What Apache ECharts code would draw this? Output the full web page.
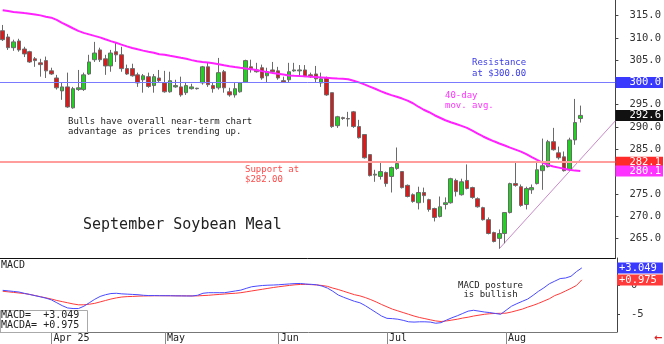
<!DOCTYPE html>
<html><head><meta charset="utf-8">
<script src="https://cdn.jsdelivr.net/npm/echarts@6/dist/echarts.min.js"></script>
<style>html,body{margin:0;padding:0;background:#fff}#c{width:664px;height:344px}</style>
</head><body><div id="c"></div>
<script>
// Trading days (plus a few empty future sessions on the right)
const dates = [
'2025-03-19','2025-03-20','2025-03-21','2025-03-24','2025-03-25','2025-03-26','2025-03-27','2025-03-28','2025-03-31',
'2025-04-01','2025-04-02','2025-04-03','2025-04-04','2025-04-07','2025-04-08','2025-04-09','2025-04-10','2025-04-11','2025-04-14','2025-04-15','2025-04-16','2025-04-17','2025-04-21','2025-04-22','2025-04-23','2025-04-24','2025-04-25','2025-04-28','2025-04-29','2025-04-30',
'2025-05-01','2025-05-02','2025-05-05','2025-05-06','2025-05-07','2025-05-08','2025-05-09','2025-05-12','2025-05-13','2025-05-14','2025-05-15','2025-05-16','2025-05-19','2025-05-20','2025-05-21','2025-05-22','2025-05-23','2025-05-27','2025-05-28','2025-05-29','2025-05-30',
'2025-06-02','2025-06-03','2025-06-04','2025-06-05','2025-06-06','2025-06-09','2025-06-10','2025-06-11','2025-06-12','2025-06-13','2025-06-16','2025-06-17','2025-06-18','2025-06-20','2025-06-23','2025-06-24','2025-06-25','2025-06-26','2025-06-27','2025-06-30',
'2025-07-01','2025-07-02','2025-07-03','2025-07-07','2025-07-08','2025-07-09','2025-07-10','2025-07-11','2025-07-14','2025-07-15','2025-07-16','2025-07-17','2025-07-18','2025-07-21','2025-07-22','2025-07-23','2025-07-24','2025-07-25','2025-07-28','2025-07-29','2025-07-30','2025-07-31',
'2025-08-01','2025-08-04','2025-08-05','2025-08-06','2025-08-07','2025-08-08','2025-08-11','2025-08-12','2025-08-13','2025-08-14','2025-08-15','2025-08-18','2025-08-19','2025-08-20','2025-08-21',
'2025-08-22','2025-08-25','2025-08-26','2025-08-27','2025-08-28','2025-08-29'
];
const tickDates  = ['2025-04-01','2025-05-01','2025-06-02','2025-07-01','2025-08-01'];
const tickLabels = ['Apr 25','May','Jun','Jul','Aug'];

const opens = [311.6,310.2,307.8,309.3,307.5,306.9,305.3,304.4,304.9,302.6,301.0,298.1,299.0,294.3,298.4,298.4,301.9,305.1,307.3,305.3,303.7,306.9,306.2,303.1,303.1,301.7,300.6,301.3,299.3,301.0,299.9,297.9,299.0,299.0,297.7,298.6,298.6,299.9,303.5,299.3,298.8,302.4,297.9,297.2,297.9,300.1,303.5,302.8,303.3,301.5,302.8,302.6,300.4,300.6,302.6,302.6,302.8,301.7,301.9,299.9,301.0,297.7,290.3,292.1,291.9,293.4,290.1,288.3,283.8,279.2,278.9,279.8,278.9,280.7,280.0,276.9,274.8,273.0,275.3,273.7,271.7,269.9,272.6,273.0,278.0,274.8,278.0,276.4,273.9,271.9,269.2,266.3,265.0,266.1,270.8,277.3,276.6,272.6,275.9,277.3,280.2,281.1,286.7,284.2,283.3,280.4,287.1,291.9];
const closes = [309.6,307.8,309.1,307.3,306.4,304.6,304.9,304.0,302.6,301.9,298.8,299.0,294.5,298.6,298.8,301.7,304.6,306.6,305.1,303.7,306.6,306.2,303.1,301.9,301.5,299.9,301.5,299.1,301.3,300.4,297.9,300.4,299.3,297.2,299.3,299.0,298.7,303.5,299.5,298.6,302.2,298.8,297.2,298.6,299.9,304.9,303.1,302.4,301.0,302.4,302.4,301.0,300.1,302.4,302.8,302.8,301.3,301.3,300.8,300.8,297.2,290.1,292.3,291.9,291.8,290.1,287.6,283.1,279.1,279.4,280.0,277.3,280.9,281.8,276.4,274.4,273.3,275.3,274.6,271.5,269.7,272.1,273.0,278.4,275.5,277.7,276.2,274.2,272.1,269.2,266.1,264.3,266.1,270.8,277.3,276.9,272.4,276.2,276.4,280.4,281.3,286.7,284.9,283.1,280.2,287.1,291.0,292.6];
const lows   = [309.3,307.3,307.1,306.9,305.7,304.4,303.5,301.3,301.0,301.7,298.4,296.1,294.3,294.1,298.1,298.1,301.7,304.6,304.6,301.7,302.4,304.6,302.4,301.7,301.3,299.0,297.7,298.8,297.7,300.1,297.7,297.7,298.8,296.8,297.2,298.4,298.4,299.5,299.0,297.7,298.4,297.7,296.8,296.6,297.7,299.9,302.2,302.2,300.6,299.9,302.2,300.6,299.9,300.1,302.4,301.3,301.3,301.0,299.9,299.0,297.0,289.8,289.8,291.6,290.1,289.8,287.4,282.9,278.9,277.7,278.2,276.6,275.3,280.4,276.2,274.2,273.0,271.5,273.0,271.0,268.8,269.7,271.5,272.8,274.4,274.6,276.0,273.9,271.9,269.0,265.9,264.1,262.7,263.9,270.6,276.6,272.1,271.5,275.0,277.1,275.9,280.9,284.7,282.7,280.0,280.2,286.0,291.0];
const highs  = [312.9,310.9,309.6,309.8,308.0,307.1,305.7,305.3,305.8,303.3,301.7,299.9,302.2,299.0,302.8,302.2,306.2,309.1,307.8,306.2,307.3,308.9,308.0,304.0,304.2,302.2,301.9,302.2,301.9,302.8,302.6,302.4,300.6,301.3,300.1,299.7,298.8,303.7,304.4,299.9,305.5,302.8,298.8,300.1,300.1,305.1,305.1,304.4,304.0,303.3,304.6,303.5,301.3,304.4,304.4,303.9,303.9,302.2,303.7,302.2,301.3,297.7,292.5,292.3,293.4,293.6,291.6,288.3,283.8,280.4,282.0,280.0,281.1,285.4,280.0,277.1,275.1,276.6,276.4,273.9,271.9,274.4,274.2,278.6,278.4,278.4,281.6,276.6,274.2,272.1,269.7,266.5,267.0,270.8,277.5,282.0,277.1,276.6,277.1,282.0,287.4,287.1,289.8,285.6,284.5,287.6,296.3,294.8];

const ma40 = [316.19,316.01,315.83,315.70,315.56,315.43,315.27,315.05,314.76,314.53,314.04,313.37,312.78,312.16,311.57,311.13,310.79,310.45,310.12,309.69,309.27,308.89,308.48,308.10,307.74,307.43,307.14,306.87,306.65,306.31,306.20,305.97,305.75,305.52,305.30,305.01,304.74,304.58,304.45,304.29,304.07,303.84,303.62,303.44,303.28,303.13,302.95,302.77,302.54,302.34,302.14,301.94,301.76,301.58,301.49,301.42,301.36,301.29,301.22,301.13,301.04,300.95,300.86,300.80,300.71,300.37,300.01,299.56,299.07,298.58,298.06,297.57,297.15,296.79,296.38,295.93,295.33,294.55,293.87,293.31,292.64,292.08,291.52,291.07,290.67,290.24,289.80,289.17,288.50,287.87,287.31,286.79,286.30,285.85,285.36,284.91,284.46,283.90,283.23,282.60,282.00,281.50,281.15,280.88,280.61,280.39,280.21,280.10];

const macd = [-0.84,-0.93,-1.03,-1.13,-1.36,-1.56,-1.77,-1.98,-2.2,-2.5,-3.0,-3.5,-3.9,-4.0,-4.0,-3.6,-3.0,-2.4,-1.9,-1.6,-1.4,-1.35,-1.45,-1.5,-1.55,-1.6,-1.7,-1.75,-1.75,-1.77,-1.77,-1.78,-1.8,-1.8,-1.82,-1.82,-1.7,-1.35,-1.25,-1.25,-1.25,-1.25,-1.1,-0.95,-0.8,-0.5,-0.22,-0.1,0.0,0.05,0.08,0.13,0.2,0.27,0.33,0.35,0.25,0.2,0.12,-0.1,-0.45,-1.0,-1.65,-2.05,-2.4,-2.75,-3.0,-3.5,-4.1,-4.7,-5.3,-5.7,-5.75,-5.85,-6.05,-6.3,-6.35,-6.3,-6.3,-6.35,-6.55,-6.45,-6.0,-5.6,-5.25,-4.85,-4.45,-4.3,-4.45,-4.6,-4.7,-4.85,-5.0,-4.3,-3.6,-3.15,-2.75,-2.35,-1.7,-1.0,-0.4,0.3,0.75,1.2,1.3,1.6,2.4,3.049];
const macda = [-1.0,-1.1,-1.2,-1.3,-1.4,-1.55,-1.75,-1.95,-2.15,-2.35,-2.6,-2.8,-3.0,-3.2,-3.35,-3.35,-3.25,-3.1,-2.85,-2.6,-2.35,-2.15,-2.0,-1.93,-1.9,-1.85,-1.82,-1.8,-1.78,-1.77,-1.78,-1.78,-1.79,-1.8,-1.8,-1.81,-1.8,-1.75,-1.7,-1.62,-1.55,-1.48,-1.4,-1.35,-1.25,-1.1,-0.95,-0.8,-0.65,-0.5,-0.35,-0.22,-0.1,0.02,0.12,0.18,0.2,0.15,0.1,0.0,-0.15,-0.45,-0.7,-1.0,-1.3,-1.6,-1.8,-2.1,-2.45,-2.85,-3.3,-3.7,-4.1,-4.4,-4.7,-5.0,-5.3,-5.55,-5.75,-5.95,-6.15,-6.25,-6.15,-6.0,-5.85,-5.65,-5.5,-5.3,-5.15,-5.0,-4.9,-4.85,-4.83,-4.8,-4.6,-4.35,-4.1,-3.75,-3.45,-3.1,-2.7,-2.3,-1.75,-1.4,-0.95,-0.5,0.0,0.975];

const priceTicks = [265,270,275,280,285,290,295,300,305,310,315];
const macdTicks  = [-5,0];
const resistance = 300.0;
const support = 282.1;
// uptrend line: from the July low to the right edge of the price panel
const trendX = [92, 113.5];
const trendY = [262.7, 291.4];

const MONO = '"DejaVu Sans Mono", monospace';
const candleData = opens.map((o,i)=>[o, closes[i], lows[i], highs[i]]);
const lastClose = closes[closes.length-1];
const lastMA = ma40[ma40.length-1];
const lastMacd = macd[macd.length-1];
const lastMacda = macda[macda.length-1];
const sgn = v => (v>=0?'+':'') + v.toFixed(3);

function tagLabel(bg, text, padL, padR){
  return {show:true, position:'end', distance:0, formatter: ()=>text,
    color:'#fff', backgroundColor:bg, fontFamily:MONO, fontSize:10.5,
    lineHeight:10, padding:[1,padR,0,padL]};
}
function tag(value, bg, text, padL, padR){
  return {yAxis: value, lineStyle:{color:'rgba(0,0,0,0)', width:1}, label: tagLabel(bg, text, padL, padR)};
}

const chart = echarts.init(document.getElementById('c'), null, {renderer:'canvas'});
chart.setOption({
  animation:false,
  backgroundColor:'#fff',
  grid:[
    {left:0, top:0, width:617, height:258},
    {left:0, top:258, width:617, height:74}
  ],
  xAxis:[
    {type:'category', gridIndex:0, data:dates, boundaryGap:true,
     axisLine:{show:true, onZero:false, lineStyle:{color:'#111', width:1}},
     axisTick:{show:false}, axisLabel:{show:false}, splitLine:{show:false}},
    {type:'category', gridIndex:1, data:dates, boundaryGap:true,
     axisLine:{show:true, onZero:false, lineStyle:{color:'#777', width:1}},
     axisTick:{show:true, alignWithLabel:true, length:12, lineStyle:{color:'#888'},
       interval:(idx,val)=>tickDates.indexOf(val)>=0},
     axisLabel:{show:true, interval:(idx,val)=>tickDates.indexOf(val)>=0,
       formatter:(val)=>tickLabels[tickDates.indexOf(val)] || '',
       align:'left', margin:1, padding:[0,0,0,2], color:'#222', fontFamily:MONO, fontSize:10},
     splitLine:{show:false}},
    {type:'value', gridIndex:0, min:-0.5, max:113.5, show:false}
  ],
  yAxis:[
    {type:'value', gridIndex:0, position:'right', min:260.6, max:318.5,
     axisLine:{show:true, onZero:false, lineStyle:{color:'#444'}},
     axisTick:{show:true, length:3, customValues:priceTicks, lineStyle:{color:'#444'}},
     axisLabel:{show:true, customValues:priceTicks, formatter:v=>v.toFixed(1), align:'left', margin:14,
       color:'#333', fontFamily:MONO, fontSize:10.5},
     splitLine:{show:false}},
    {type:'value', gridIndex:1, position:'right', min:-8.07, max:4.77,
     axisLine:{show:true, onZero:false, lineStyle:{color:'#444'}},
     axisTick:{show:true, length:3, customValues:macdTicks, lineStyle:{color:'#444'}},
     axisLabel:{show:true, customValues:macdTicks, formatter:v=>String(v), align:'left', margin:14,
       color:'#333', fontFamily:MONO, fontSize:10.5},
     splitLine:{show:false}}
  ],
  series:[
    {type:'line', name:'trend', xAxisIndex:2, yAxisIndex:0, data:trendX.map((x,i)=>[x,trendY[i]]),
     symbol:'none', silent:true, lineStyle:{color:'#c98ac9', width:1}, z:1},
    {type:'candlestick', name:'price', xAxisIndex:0, yAxisIndex:0, data:candleData, barWidth:4,
     itemStyle:{color:'#1fd41f', color0:'#e01818', borderColor:'#6a6a6a', borderColor0:'#6a6a6a', borderWidth:1},
     markLine:{silent:true, symbol:['none','none'], animation:false, z:5,
       data:[
         {yAxis:resistance, lineStyle:{color:'#7a7aff', width:1, type:'solid'},
          label:tagLabel('#3a3aff', resistance.toFixed(1), 14, 2)},
         {yAxis:support, lineStyle:{color:'#ff9d9d', width:2, type:'solid'},
          label:tagLabel('#ff2a2a', support.toFixed(1), 14, 2)},
         tag(lastClose, '#111', lastClose.toFixed(1), 14, 2)
       ]}},
    {type:'line', name:'ma40', xAxisIndex:0, yAxisIndex:0, data:ma40, symbol:'none', silent:true,
     lineStyle:{color:'#ff22ff', width:2}, z:3,
     markLine:{silent:true, symbol:['none','none'], animation:false,
       data:[tag(lastMA, '#ff33ff', lastMA.toFixed(1), 14, 2)]}},
    {type:'line', name:'MACDA', xAxisIndex:1, yAxisIndex:1, data:macda, symbol:'none', silent:true,
     lineStyle:{color:'#ff3a3a', width:1},
     markLine:{silent:true, symbol:['none','none'], animation:false,
       data:[tag(lastMacda, '#ff3a3a', sgn(lastMacda), 2, 6)]}},
    {type:'line', name:'MACD', xAxisIndex:1, yAxisIndex:1, data:macd, symbol:'none', silent:true,
     lineStyle:{color:'#4a4aff', width:1},
     markLine:{silent:true, symbol:['none','none'], animation:false,
       data:[tag(lastMacd, '#3a3aff', sgn(lastMacd), 2, 6)]}}
  ],
  graphic:[
    {type:'text', x:472, y:57, style:{text:'Resistance\nat $300.00', fill:'#3a3ae8', font:'9px '+MONO, lineHeight:11, align:'left', verticalAlign:'top'}},
    {type:'text', x:445, y:91, style:{text:'40-day\nmov. avg.', fill:'#ff33ff', font:'9px '+MONO, lineHeight:10, align:'left', verticalAlign:'top'}},
    {type:'text', x:68, y:117, style:{text:'Bulls have overall near-term chart\nadvantage as prices trending up.', fill:'#222', font:'9px '+MONO, lineHeight:10, align:'left', verticalAlign:'top'}},
    {type:'text', x:245, y:165, style:{text:'Support at\n$282.00', fill:'#ff4a4a', font:'9px '+MONO, lineHeight:9.5, align:'left', verticalAlign:'top'}},
    {type:'text', x:83, y:218, style:{text:'September Soybean Meal', fill:'#222', font:'15px '+MONO, align:'left', verticalAlign:'top'}},
    {type:'text', x:458, y:281, style:{text:'MACD posture\n is bullish', fill:'#222', font:'9px '+MONO, lineHeight:9, align:'left', verticalAlign:'top'}},
    {type:'text', x:1, y:260, style:{text:'MACD', fill:'#222', font:'10px '+MONO, align:'left', verticalAlign:'top'}},
    {type:'rect', shape:{x:0.5, y:310.5, width:87, height:22}, style:{fill:'#fff', stroke:'#aaa', lineWidth:1}, z:10},
    {type:'text', x:1, y:311, z:11, style:{text:'MACD=  '+sgn(lastMacd)+'\nMACDA= '+sgn(lastMacda), fill:'#222', font:'10px '+MONO, lineHeight:9.5, align:'left', verticalAlign:'top'}},
    {type:'text', x:654, y:333, style:{text:'\u2190', fill:'#e02020', font:'bold 10px "DejaVu Sans"', align:'left', verticalAlign:'top'}}
  ]
});
</script>
</body></html>
